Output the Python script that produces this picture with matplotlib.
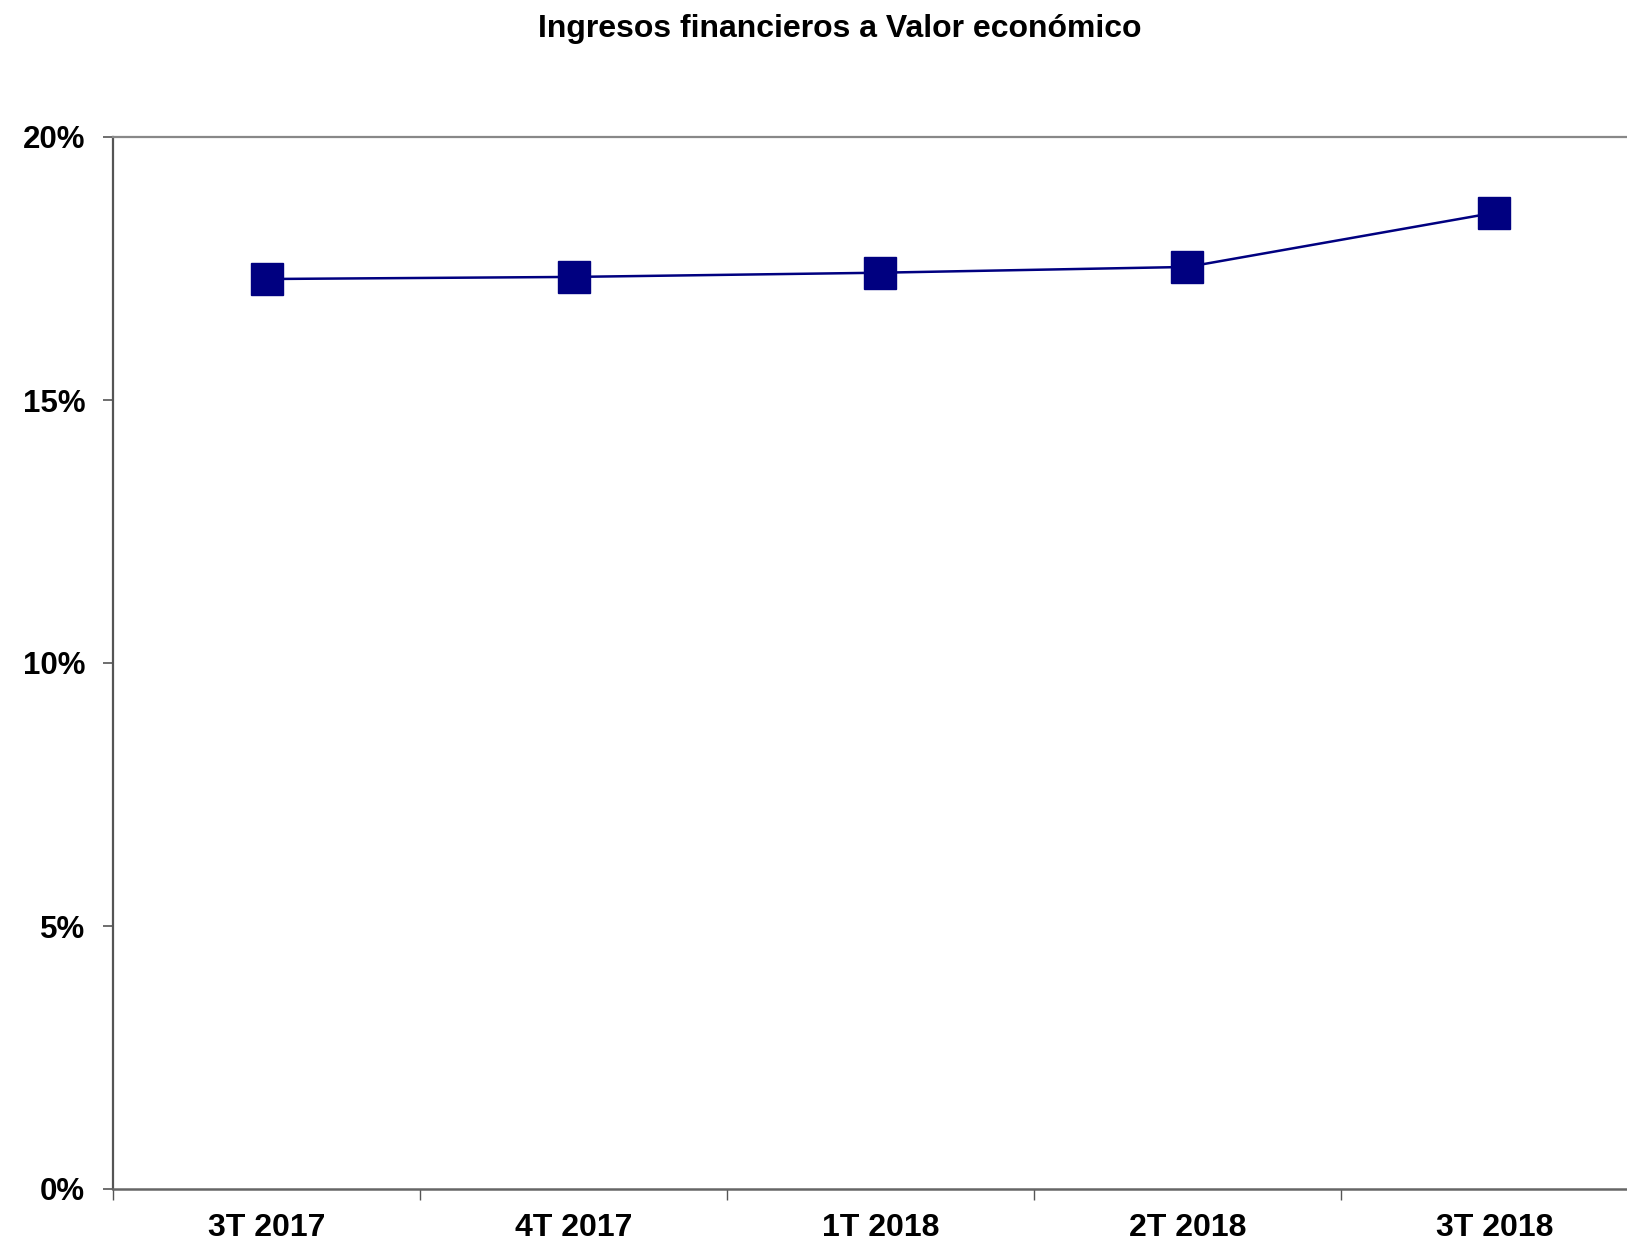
import numpy as np
import matplotlib.pyplot as plt
from matplotlib.ticker import FixedLocator

plt.rcParams['font.family'] = ['Liberation Sans', 'DejaVu Sans']

quarters = ["3T 2017", "4T 2017", "1T 2018", "2T 2018", "3T 2018"]
ratio = [17.30, 17.34, 17.42, 17.53, 18.56]   # % ingresos financieros / valor economico
y_ticks = [0, 5, 10, 15, 20]

W, H = 1627, 1253
fig = plt.figure(figsize=(W / 100, H / 100), dpi=100)
# plot area runs past the right edge, as in the source image
left, right = 113 / W, 1648 / W
top, bottom = 1 - 137 / H, 1 - 1189 / H
ax = fig.add_axes([left, bottom, right - left, top - bottom])

x = np.arange(len(quarters))
ax.plot(x, ratio, color="#000080", lw=1.8, marker="s", ms=23.5,
        mfc="#000080", mec="#000080", zorder=3)

ax.set_xlim(-0.5, len(quarters) - 0.5)
ax.set_ylim(0, 20)

ax.yaxis.set_major_locator(FixedLocator(y_ticks))
ax.set_yticklabels([f"{v}%" for v in y_ticks])
ax.tick_params(axis="y", length=7, width=1.2, color="#555555", pad=13,
               labelsize=22.5)
for lb in ax.get_yticklabels():
    lb.set_fontweight("bold")

# category boundaries get ticks, labels sit between them
ax.xaxis.set_major_locator(FixedLocator(np.arange(len(quarters) + 1) - 0.5))
ax.xaxis.set_minor_locator(FixedLocator(x))
ax.set_xticklabels([], minor=False)
ax.set_xticklabels(quarters, minor=True)
ax.tick_params(axis="x", which="major", length=8, width=1.0, color="#555555")
ax.tick_params(axis="x", which="minor", length=0, pad=17, labelsize=23)
for lb in ax.get_xticklabels(minor=True):
    lb.set_fontweight("bold")

ax.spines["left"].set_color("#555555")
ax.spines["left"].set_linewidth(1.6)
ax.spines["bottom"].set_color("#666666")
ax.spines["bottom"].set_linewidth(1.8)
ax.spines["top"].set_color("#888888")
ax.spines["top"].set_linewidth(1.6)
ax.spines["right"].set_visible(False)

fig.text(840 / W, 1 - 29 / H, "Ingresos financieros a Valor económico",
         ha="center", va="center", fontsize=23, fontweight="bold")

fig.savefig("out.png", dpi=100)
